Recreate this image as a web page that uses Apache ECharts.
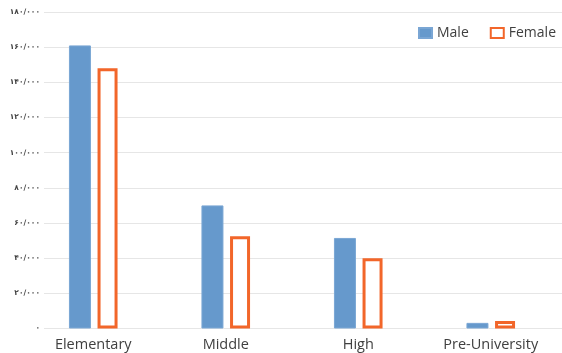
<!DOCTYPE html>
<html>
<head>
<meta charset="utf-8">
<script src="https://cdn.jsdelivr.net/npm/echarts@6/dist/echarts.min.js"></script>
<style>
html,body{margin:0;padding:0;background:#fff;}
#c{width:562px;height:353px;}
</style>
</head>
<body>
<div id="c"></div>
<script>
var categories = ['Elementary', 'Middle', 'High', 'Pre-University'];
var maleValues = [161000, 70000, 51500, 3200];
var femaleValues = [148000, 52500, 40000, 4200];
var seriesNames = ['Male', 'Female'];
var tickLabels = {
  0: '۰', 20000: '۲۰/۰۰۰', 40000: '۴۰/۰۰۰', 60000: '۶۰/۰۰۰', 80000: '۸۰/۰۰۰',
  100000: '۱۰۰/۰۰۰', 120000: '۱۲۰/۰۰۰', 140000: '۱۴۰/۰۰۰', 160000: '۱۶۰/۰۰۰', 180000: '۱۸۰/۰۰۰'
};

var chart = echarts.init(document.getElementById('c'), null, {renderer: 'canvas'});
var gridTop = 12, gridBottom = 353 - 328.5;
chart.setOption({
  animation: false,
  backgroundColor: '#fff',
  textStyle: {fontFamily: '"Open Sans", sans-serif'},
  legend: {
    orient: 'horizontal',
    left: 418, top: 26, width: 300, padding: 0,
    icon: 'rect',
    itemWidth: 13, itemHeight: 10, itemGap: 21,
    textStyle: {fontSize: 14, color: '#404040', fontFamily: '"Open Sans", sans-serif'},
    data: seriesNames
  },
  grid: [
    {left: 44, right: 0, top: gridTop, bottom: gridBottom},
    {left: 27, right: 5, top: gridTop, bottom: gridBottom}
  ],
  xAxis: [
    {gridIndex: 0, type: 'category', data: categories, show: false},
    {gridIndex: 1, type: 'category', data: categories,
     axisLine: {show: false}, axisTick: {show: false},
     axisLabel: {fontSize: 14.5, color: '#404040', margin: 9, fontFamily: '"Open Sans", sans-serif'}}
  ],
  yAxis: [
    {gridIndex: 0, type: 'value', min: 0, max: 180000, interval: 20000,
     axisLine: {show: false}, axisTick: {show: false},
     splitLine: {lineStyle: {color: '#e6e6e6', width: 1}},
     axisLabel: {fontSize: 7.5, fontWeight: 'bold', color: '#404040', margin: 4,
       fontFamily: '"DejaVu Sans", sans-serif',
       formatter: function (v) { return tickLabels[v]; }}},
    {gridIndex: 1, type: 'value', min: 0, max: 180000, interval: 20000, show: false,
     splitLine: {show: false}}
  ],
  series: [
    {name: 'Male', type: 'bar', xAxisIndex: 1, yAxisIndex: 1,
     data: maleValues, barWidth: 22, barGap: '30%',
     itemStyle: {color: '#6699cc', borderColor: '#7aa6d4', borderWidth: 1}},
    {name: 'Female', type: 'bar', xAxisIndex: 1, yAxisIndex: 1,
     data: femaleValues, barWidth: 20,
     itemStyle: {color: '#ffffff', borderColor: '#f2662a', borderWidth: 3}}
  ]
});
</script>
</body>
</html>
